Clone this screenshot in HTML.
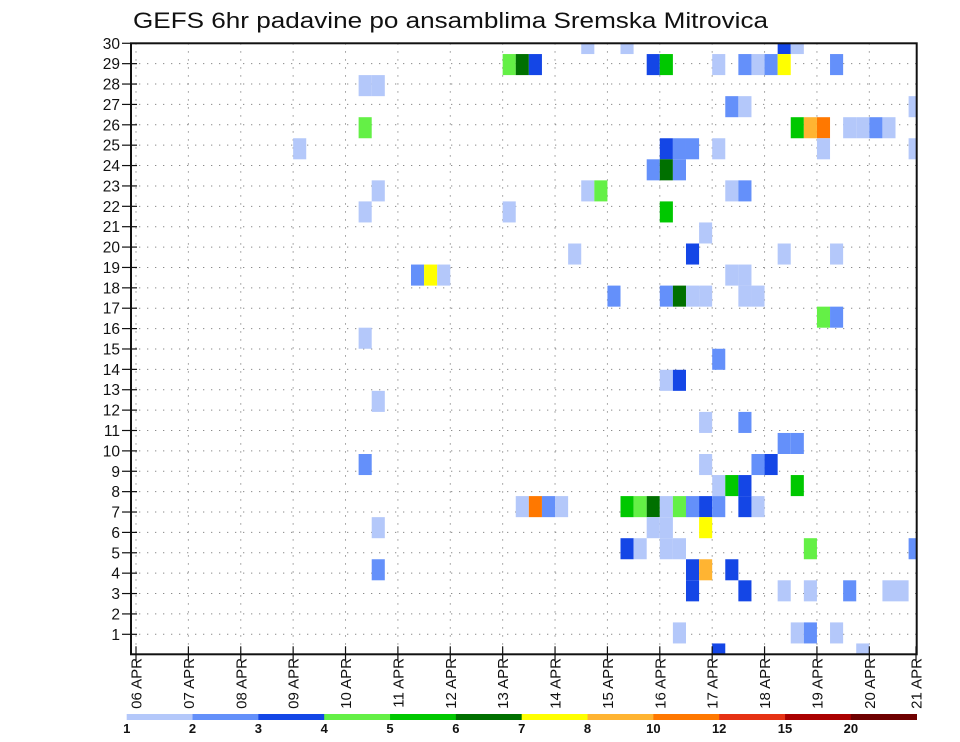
<!DOCTYPE html>
<html><head><meta charset="utf-8"><style>
html,body{margin:0;padding:0;background:#fff;}
svg{display:block;font-family:"Liberation Sans",sans-serif;}
</style></head><body>
<svg id="chart" width="960" height="742" viewBox="0 0 960 742">
<defs><clipPath id="plotclip"><rect x="131" y="43.3" width="785.7" height="611"/></clipPath></defs>
<text x="133" y="28" font-size="22" textLength="635" lengthAdjust="spacingAndGlyphs" fill="#111">GEFS 6hr padavine po ansamblima Sremska Mitrovica</text>
<g id="grid"></g>
<g id="cells" clip-path="url(#plotclip)"></g>
<rect x="131" y="43.3" width="785.7" height="611" fill="none" stroke="#111" stroke-width="2"/>
<g id="yaxis"></g>
<g id="xaxis"></g>
<g id="colorbar"></g>
</svg>
<script>
const days = ["06","07","08","09","10","11","12","13","14","15","16","17","18","19","20","21"];
const members = [1,2,3,4,5,6,7,8,9,10,11,12,13,14,15,16,17,18,19,20,21,22,23,24,25,26,27,28,29,30];
const levels = [1,2,3,4,5,6,7,8,10,12,15,20];
const levelColors = ["#b4c8fa","#6490fa","#1446e6","#64f046","#00c800","#007000","#ffff00","#ffb432","#ff7800","#e63214","#aa0000","#6e0000"];
// cells: 6h step index, ensemble member, precipitation (mm)
const cellStep = [34,37,49,50, 28,29,30,39,40,44,46,47,48,49,53, 17,18, 45,46,59, 17,50,51,52,54,55,56,57, 12,40,41,42,44,52,59, 39,40,41, 18,34,35,45,46, 17,28,40, 43, 33,42,49,53, 21,22,23,45,46, 36,40,41,42,43,46,47, 52,53, 17, 44, 40,41, 18, 43,46, 49,50, 17,43,47,48, 44,45,46,50, 29,30,31,32,37,38,39,40,41,42,43,44,46,47, 18,39,40,43, 37,38,40,41,51,59, 18,42,43,45, 42,46,49,51,54,57,58, 41,50,51,53, 44,55];
const cellMember = [30,30,30,30, 29,29,29,29,29,29,29,29,29,29,29, 28,28, 27,27,27, 26,26,26,26,26,26,26,26, 25,25,25,25,25,25,25, 24,24,24, 23,23,23,23,23, 22,22,22, 21, 20,20,20,20, 19,19,19,19,19, 18,18,18,18,18,18,18, 17,17, 16, 15, 14,14, 13, 12,12, 11,11, 10,10,10,10, 9,9,9,9, 8,8,8,8,8,8,8,8,8,8,8,8,8,8, 7,7,7,7, 6,6,6,6,6,6, 5,5,5,5, 4,4,4,4,4,4,4, 2,2,2,2, 1,1];
const cellValue = [1.5,1.5,3.5,1.5, 4.5,6.5,3.5,3.5,5.5,1.5,2.5,1.5,2.5,7.5,2.5, 1.5,1.5, 2.5,1.5,1.5, 4.5,5.5,9,11,1.5,1.5,2.5,1.5, 1.5,3.5,2.5,2.5,1.5,1.5,1.5, 2.5,6.5,2.5, 1.5,1.5,4.5,1.5,2.5, 1.5,1.5,5.5, 1.5, 1.5,3.5,1.5,1.5, 2.5,7.5,1.5,1.5,1.5, 2.5,2.5,6.5,1.5,1.5,1.5,1.5, 4.5,2.5, 1.5, 2.5, 1.5,3.5, 1.5, 1.5,2.5, 2.5,2.5, 2.5,1.5,2.5,3.5, 1.5,5.5,3.5,5.5, 1.5,11,2.5,1.5,5.5,4.5,6.5,1.5,4.5,2.5,3.5,2.5,3.5,1.5, 1.5,1.5,1.5,7.5, 3.5,1.5,1.5,1.5,4.5,2.5, 2.5,3.5,9,3.5, 3.5,3.5,1.5,1.5,2.5,1.5,1.5, 1.5,1.5,2.5,1.5, 3.5,1.5];

const NS="http://www.w3.org/2000/svg";
const X0=136, DAYW=52.38, STEPW=DAYW/4;
const PL=131, PR=916.7, PT=43.3, PB=654.3;
function xDay(i){return X0+i*DAYW;}
function xStep(s){return X0+s*STEPW;}
function yLabel(m){return 634.3-(m-1)*20.38;}
function yBandTop(m){return 33+21.05*(30-m);}
function colorFor(v){let c=levelColors[0];for(let i=0;i<levels.length;i++){if(v>=levels[i])c=levelColors[i];}return c;}
function mk(tag,attrs,parent){const e=document.createElementNS(NS,tag);for(const k in attrs)e.setAttribute(k,attrs[k]);parent.appendChild(e);return e;}

const grid=document.getElementById('grid');
members.forEach(m=>{
  const l=mk('line',{x1:PL,x2:PR,y1:yLabel(m),y2:yLabel(m),stroke:'#8a8a8a','stroke-width':1,'stroke-dasharray':'1.3 6.7'},grid);
  
  
});
days.forEach((d,i)=>{
  if(i===days.length-1)return;
  const l=mk('line',{x1:xDay(i),x2:xDay(i),y1:PT,y2:PB,stroke:'#8a8a8a','stroke-width':1,'stroke-dasharray':'1.3 6.7'},grid);
  
  
});

const cells=document.getElementById('cells');
for(let i=0;i<cellStep.length;i++){
  const r=mk('rect',{x:xStep(cellStep[i]),y:yBandTop(cellMember[i]),width:STEPW,height:21.05,fill:colorFor(cellValue[i])},cells);
  
  
}

const yax=document.getElementById('yaxis');
members.forEach(m=>{
  const y=yLabel(m);
  const t=mk('line',{x1:122,x2:137,y1:y,y2:y,stroke:'#111','stroke-width':1.2},yax);
  
  
  const tx=mk('text',{x:120,y:y+5.5,'text-anchor':'end','font-size':15.5,fill:'#111'},yax);
  tx.textContent=String(m);
  
  
});

const xax=document.getElementById('xaxis');
days.forEach((d,i)=>{
  const x=(i===days.length-1)?916:xDay(i);
  const t=mk('line',{x1:x,x2:x,y1:PB-8,y2:PB+6,stroke:'#111','stroke-width':1.2},xax);
  
  
  const tx=mk('text',{x:0,y:0,'text-anchor':'end','font-size':15,fill:'#111',transform:`translate(${x+5.5},658) rotate(-90)`},xax);
  tx.textContent=d+" APR";
  
  
});

const cb=document.getElementById('colorbar');
const CBL=126.7, CBW=(916.7-126.7)/levels.length;
levels.forEach((lv,i)=>{
  const r=mk('rect',{x:CBL+i*CBW,y:714,width:CBW+0.3,height:6,fill:levelColors[i]},cb);
  
  
  const tx=mk('text',{x:CBL+i*CBW,y:733,'text-anchor':'middle','font-size':13,'font-weight':'bold',fill:'#111'},cb);
  tx.textContent=String(lv);
  
  
});
</script>
</body></html>
